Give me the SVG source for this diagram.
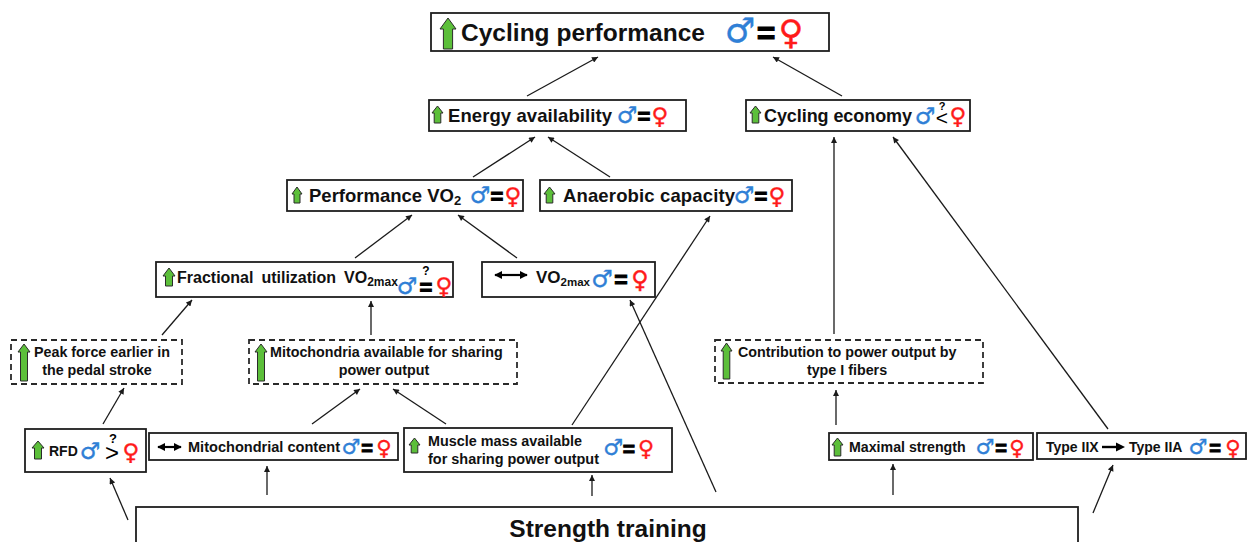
<svg xmlns="http://www.w3.org/2000/svg" width="1247" height="542" viewBox="0 0 1247 542">
<defs>
<style>
.box{fill:#fff;stroke:#1e1e1e;stroke-width:1.8}
.dbox{fill:#fff;stroke:#2a2a2a;stroke-width:1.8;stroke-dasharray:6 4}
.up{fill:#5cbf3a;stroke:#2b2b2b;stroke-width:1}
.t{font-family:"Liberation Sans",Arial,sans-serif;font-weight:bold;fill:#111}
.m{font-family:"DejaVu Sans",sans-serif;fill:#2f7fd6;stroke:#2f7fd6;stroke-width:0.4;text-anchor:middle}
.f{font-family:"DejaVu Sans",sans-serif;fill:#ff1a1a;stroke:#ff1a1a;stroke-width:0.4;text-anchor:middle}
.eq{font-family:"Liberation Sans",Arial,sans-serif;font-weight:bold;fill:#000;stroke:#000;stroke-width:1;text-anchor:middle}
.q{font-family:"Liberation Sans",Arial,sans-serif;font-weight:bold;fill:#000;text-anchor:middle}
.c{fill:none;stroke:#1a1a1a;stroke-width:1.3;marker-end:url(#ah)}
.ba{fill:none;stroke:#000;stroke-width:2.2}
</style>
<marker id="ah" viewBox="0 0 10 10" refX="10" refY="5" markerWidth="7" markerHeight="6" markerUnits="userSpaceOnUse" orient="auto"><path d="M0,0 L10,5 L0,10 z" fill="#1a1a1a"/></marker>
<marker id="bh" viewBox="0 0 10 10" refX="9" refY="5" markerWidth="8" markerHeight="8" markerUnits="userSpaceOnUse" orient="auto-start-reverse"><path d="M0,0 L10,5 L0,10 z" fill="#000"/></marker>
</defs>

<g id="connectors">
<line class="c" x1="527" y1="96" x2="598" y2="57"/>
<line class="c" x1="842" y1="96" x2="773" y2="57"/>
<line class="c" x1="473" y1="177" x2="535" y2="137"/>
<line class="c" x1="610" y1="177" x2="548" y2="137"/>
<line class="c" x1="355" y1="258" x2="412" y2="215"/>
<line class="c" x1="517" y1="258" x2="458" y2="215"/>
<line class="c" x1="572" y1="425" x2="710" y2="216"/>
<line class="c" x1="716" y1="492" x2="630" y2="300"/>
<line class="c" x1="162" y1="335" x2="192" y2="300"/>
<line class="c" x1="371" y1="335" x2="371" y2="301"/>
<line class="c" x1="103" y1="424" x2="124" y2="388"/>
<line class="c" x1="312" y1="424" x2="360" y2="389"/>
<line class="c" x1="446" y1="424" x2="393" y2="389"/>
<line class="c" x1="128" y1="520" x2="110" y2="478"/>
<line class="c" x1="267" y1="495" x2="267" y2="466"/>
<line class="c" x1="592" y1="496" x2="592" y2="475"/>
<line class="c" x1="893" y1="495" x2="893" y2="464"/>
<line class="c" x1="1093" y1="513" x2="1113" y2="465"/>
<line class="c" x1="836" y1="425" x2="836" y2="390"/>
<line class="c" x1="834" y1="334" x2="834" y2="137"/>
<line class="c" x1="1108" y1="429" x2="893" y2="137"/>
</g>

<g id="cycling-performance">
<rect class="box" x="431" y="13" width="398" height="38"/>
<path class="up" d="M448,18 L456,29 L452.6,29 L452.6,49 L443.4,49 L443.4,29 L440,29 Z"/>
<text class="t" x="461" y="41" font-size="24.5" textLength="244">Cycling performance</text>
<text class="m" x="740" y="42" font-size="34" stroke-width="0.7">♂</text>
<text class="eq" x="766" y="44" font-size="32" stroke-width="1.6">=</text>
<text class="f" x="791" y="44" font-size="34" stroke-width="0.7">♀</text>
</g>

<g id="energy-availability">
<rect class="box" x="429" y="100" width="257" height="31"/>
<path class="up" d="M437.5,106 L443,113 L440.8,113 L440.8,123 L434.2,123 L434.2,113 L432,113 Z"/>
<text class="t" x="448" y="122" font-size="18.5" textLength="164">Energy availability</text>
<text class="m" x="627" y="123" font-size="23">♂</text>
<text class="eq" x="644" y="124" font-size="22">=</text>
<text class="f" x="660" y="124" font-size="23">♀</text>
</g>

<g id="cycling-economy">
<rect class="box" x="746" y="100" width="224" height="31"/>
<path class="up" d="M755.5,106 L761,113 L758.8,113 L758.8,123 L752.2,123 L752.2,113 L750,113 Z"/>
<text class="t" x="764" y="122" font-size="18" textLength="148">Cycling economy</text>
<text class="m" x="925" y="124" font-size="23">♂</text>
<text class="q" x="942" y="110" font-size="11">?<tspan x="942" y="125" font-size="21" font-weight="normal">&lt;</tspan></text>
<text class="f" x="958" y="124" font-size="23">♀</text>
</g>

<g id="performance-vo2">
<rect class="box" x="287" y="180" width="236" height="31"/>
<path class="up" d="M297,187 L302,194 L300,194 L300,203 L294,203 L294,194 L292,194 Z"/>
<text class="t" x="309" y="202" font-size="18.5">Performance VO<tspan font-size="13" dy="3">2</tspan></text>
<text class="m" x="480" y="203" font-size="23">♂</text>
<text class="eq" x="497" y="204" font-size="22">=</text>
<text class="f" x="513" y="204" font-size="23">♀</text>
</g>

<g id="anaerobic-capacity">
<rect class="box" x="540" y="180" width="252" height="31"/>
<path class="up" d="M549.5,187 L555,194 L552.8,194 L552.8,203 L546.2,203 L546.2,194 L544,194 Z"/>
<text class="t" x="563" y="202" font-size="18.5" textLength="172">Anaerobic capacity</text>
<text class="m" x="744" y="203" font-size="23">♂</text>
<text class="eq" x="761" y="204" font-size="22">=</text>
<text class="f" x="777" y="204" font-size="23">♀</text>
</g>

<g id="fractional-utilization">
<rect class="box" x="156" y="262" width="297" height="35"/>
<path class="up" d="M169,268 L175,276 L172.5,276 L172.5,286 L165.5,286 L165.5,276 L163,276 Z"/>
<text class="t" x="177" y="283" font-size="16" word-spacing="3.5">Fractional utilization VO<tspan font-size="12" dy="3">2max</tspan></text>
<text class="m" x="407" y="294" font-size="23">♂</text>
<text class="q" x="426" y="275" font-size="12">?<tspan x="426" y="295" font-size="22" stroke="#000" stroke-width="1">=</tspan></text>
<text class="f" x="444" y="294" font-size="23">♀</text>
</g>

<g id="vo2max">
<rect class="box" x="482" y="262" width="173" height="35"/>
<line class="ba" x1="495" y1="275" x2="527" y2="275" marker-start="url(#bh)" marker-end="url(#bh)"/>
<text class="t" x="536" y="283" font-size="17">VO<tspan font-size="11.5" dy="3">2max</tspan></text>
<text class="m" x="602" y="287" font-size="24">♂</text>
<text class="eq" x="621" y="288" font-size="23">=</text>
<text class="f" x="640" y="288" font-size="24">♀</text>
</g>

<g id="peak-force">
<rect class="dbox" x="11" y="340" width="171" height="44"/>
<path class="up" d="M24,344 L30,352 L27.5,352 L27.5,381 L20.5,381 L20.5,352 L18,352 Z"/>
<text class="t" x="34" y="357" font-size="14.3">Peak force earlier in</text>
<text class="t" x="97" y="375" font-size="14.3" text-anchor="middle">the pedal stroke</text>
</g>

<g id="mitochondria-available">
<rect class="dbox" x="249" y="340" width="268" height="44"/>
<path class="up" d="M261,344 L267,352 L264.5,352 L264.5,381 L257.5,381 L257.5,352 L255,352 Z"/>
<text class="t" x="270" y="357" font-size="14.3">Mitochondria available for sharing</text>
<text class="t" x="384" y="375" font-size="14.3" text-anchor="middle">power output</text>
</g>

<g id="contribution-type-i">
<rect class="dbox" x="715" y="340" width="268" height="43"/>
<path class="up" d="M726.5,343 L732,351 L729.8,351 L729.8,379 L723.2,379 L723.2,351 L721,351 Z"/>
<text class="t" x="738" y="357" font-size="14.3">Contribution to power output by</text>
<text class="t" x="847" y="375" font-size="14.3" text-anchor="middle">type I fibers</text>
</g>

<g id="rfd">
<rect class="box" x="25" y="429" width="121" height="43"/>
<path class="up" d="M38,441 L44,448 L41.5,448 L41.5,459 L34.5,459 L34.5,448 L32,448 Z"/>
<text class="t" x="49" y="456" font-size="14">RFD</text>
<text class="m" x="90" y="459" font-size="23">♂</text>
<text class="q" x="113" y="443" font-size="13">?<tspan x="112" y="461" font-size="24" font-weight="normal">&gt;</tspan></text>
<text class="f" x="131" y="460" font-size="23">♀</text>
</g>

<g id="mitochondrial-content">
<rect class="box" x="149" y="433" width="249" height="27"/>
<line class="ba" x1="158" y1="447" x2="181" y2="447" marker-start="url(#bh)" marker-end="url(#bh)"/>
<text class="t" x="188" y="452" font-size="15" textLength="152" lengthAdjust="spacingAndGlyphs">Mitochondrial content</text>
<text class="m" x="351" y="454" font-size="21">♂</text>
<text class="eq" x="367" y="455" font-size="20">=</text>
<text class="f" x="384" y="455" font-size="21">♀</text>
</g>

<g id="muscle-mass">
<rect class="box" x="404" y="428" width="268" height="44"/>
<path class="up" d="M414.5,438 L420,445 L417.8,445 L417.8,453 L411.2,453 L411.2,445 L409,445 Z"/>
<text class="t" x="428" y="446" font-size="14" textLength="154" lengthAdjust="spacingAndGlyphs">Muscle mass available</text>
<text class="t" x="428" y="464" font-size="14" textLength="171" lengthAdjust="spacingAndGlyphs">for sharing power output</text>
<text class="m" x="613" y="455" font-size="22">♂</text>
<text class="eq" x="629" y="456" font-size="21">=</text>
<text class="f" x="646" y="456" font-size="22">♀</text>
</g>

<g id="maximal-strength">
<rect class="box" x="829" y="433" width="204" height="27"/>
<path class="up" d="M837.5,438 L843,445 L840.8,445 L840.8,456 L834.2,456 L834.2,445 L832,445 Z"/>
<text class="t" x="849" y="452" font-size="14.2">Maximal strength</text>
<text class="m" x="985" y="454" font-size="21">♂</text>
<text class="eq" x="1001" y="455" font-size="20">=</text>
<text class="f" x="1017" y="455" font-size="21">♀</text>
</g>

<g id="fiber-type">
<rect class="box" x="1037" y="433" width="209" height="26"/>
<text class="t" x="1046" y="452" font-size="14">Type IIX</text>
<line x1="1102" y1="447" x2="1118" y2="447" stroke="#000" stroke-width="2.4"/>
<path d="M1116,442.5 L1125,447 L1116,451.5 Z" fill="#000"/>
<text class="t" x="1129" y="452" font-size="14">Type IIA</text>
<text class="m" x="1198" y="454" font-size="21">♂</text>
<text class="eq" x="1215" y="455" font-size="20">=</text>
<text class="f" x="1233" y="455" font-size="21">♀</text>
</g>

<g id="strength-training">
<rect class="box" x="136" y="507" width="942" height="45"/>
<text class="t" x="608" y="537" font-size="24.5" text-anchor="middle">Strength training</text>
</g>
</svg>
